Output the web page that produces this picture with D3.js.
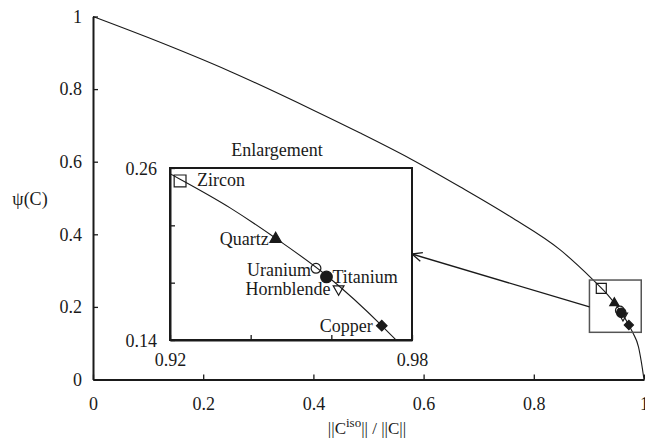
<!DOCTYPE html>
<html>
<head>
<meta charset="utf-8">
<script src="https://cdn.jsdelivr.net/npm/d3@7"></script>
<style>
  body { margin: 0; background: #fff; }
  svg { display: block; font-family: 'Liberation Serif', 'Times New Roman', serif; }
</style>
</head>
<body>
<div id="chart"></div>
<script>
// curve psi(C) vs ||C_iso|| / ||C||
const curveX = [0, 0.1, 0.25, 0.4, 0.485, 0.575, 0.666, 0.757, 0.848, 0.908, 0.92, 0.935, 0.9462, 0.9588, 0.9725, 0.98, 0.99, 0.995, 1];
const curveY = [1, 0.942, 0.848, 0.742, 0.679, 0.609, 0.531, 0.449, 0.357, 0.274, 0.256, 0.232, 0.211, 0.185, 0.150, 0.128, 0.09, 0.05, 0];

// materials
const materials = ['Zircon', 'Quartz', 'Uranium', 'Titanium', 'Hornblende', 'Copper'];
const materialX = [0.9225, 0.9462, 0.9562, 0.9588, 0.9618, 0.9725];
const materialY = [0.251, 0.2105, 0.190, 0.184, 0.1756, 0.150];

// axes
const mainTicks = [0, 0.2, 0.4, 0.6, 0.8, 1];
const insetXTicks = [0.92, 0.94, 0.96, 0.98];
const insetYTicks = [0.14, 0.18, 0.22, 0.26];
const insetXDomain = [0.92, 0.98];
const insetYDomain = [0.14, 0.26];
const zoomBoxX = [0.901, 0.995];
const zoomBoxY = [0.130, 0.274];
const arrowLevel = 0.2;

const width = 645;
const height = 438;
const ink = '#1a1a1a';

let svg = d3.select('#chart')
  .append('svg')
  .attr('width', width)
  .attr('height', height);

let x = d3.scaleLinear().domain([0, 1]).range([93, 644]);
let y = d3.scaleLinear().domain([0, 1]).range([379.5, 16.5]);
let ix = d3.scaleLinear().domain(insetXDomain).range([170, 412]);
let iy = d3.scaleLinear().domain(insetYDomain).range([340, 168]);

let curve = curveX.map(function (v, i) {
  return [v, curveY[i]];
});
let points = materials.map(function (name, i) {
  return {name: name, x: materialX[i], y: materialY[i]};
});

// symbol per material: [main size, inset size]
const markStyle = {
  Zircon: {type: d3.symbolSquare, filled: false, rot: 0, size: [100, 140]},
  Quartz: {type: d3.symbolTriangle, filled: true, rot: 0, size: [36, 58]},
  Uranium: {type: d3.symbolCircle, filled: false, rot: 0, size: [60, 75]},
  Titanium: {type: d3.symbolCircle, filled: true, rot: 0, size: [70, 105]},
  Hornblende: {type: d3.symbolTriangle, filled: false, rot: 180, size: [36, 50]},
  Copper: {type: d3.symbolSquare, filled: true, rot: 45, size: [42, 56]}
};
const labelPos = {
  Zircon: {anchor: 'start', dx: 17, dy: 5},
  Quartz: {anchor: 'end', dx: -7, dy: 6},
  Uranium: {anchor: 'end', dx: -5, dy: 8},
  Titanium: {anchor: 'start', dx: 6, dy: 6},
  Hornblende: {anchor: 'end', dx: -8, dy: 6},
  Copper: {anchor: 'end', dx: -9, dy: 6}
};

function styleAxis(g, fontSize) {
  g.select('.domain').attr('stroke', ink).attr('stroke-width', 2);
  g.selectAll('.tick line').attr('stroke', ink).attr('stroke-width', 1.3);
  g.selectAll('.tick text')
    .attr('fill', ink)
    .style('font-size', fontSize + 'px')
    .style('font-family', "'Liberation Serif', serif");
}

// main axes
let xAxis = svg.append('g')
  .attr('transform', 'translate(0,' + y(0) + ')')
  .call(d3.axisBottom(x).tickValues(mainTicks).tickSizeInner(-5).tickSizeOuter(0)
    .tickPadding(18).tickFormat(d3.format('~g')));
styleAxis(xAxis, 18);

let yAxis = svg.append('g')
  .attr('transform', 'translate(' + x(0) + ',0)')
  .call(d3.axisLeft(y).tickValues(mainTicks).tickSizeInner(-5).tickSizeOuter(0)
    .tickPadding(11).tickFormat(d3.format('~g')));
styleAxis(yAxis, 18);

let line = d3.line()
  .x(function (d) { return x(d[0]); })
  .y(function (d) { return y(d[1]); })
  .curve(d3.curveMonotoneX);

svg.append('path')
  .datum(curve)
  .attr('d', line)
  .attr('fill', 'none')
  .attr('stroke', ink)
  .attr('stroke-width', 1.1);

// small box around the enlarged region
svg.append('rect')
  .attr('x', x(zoomBoxX[0]))
  .attr('y', y(zoomBoxY[1]))
  .attr('width', x(zoomBoxX[1]) - x(zoomBoxX[0]))
  .attr('height', y(zoomBoxY[0]) - y(zoomBoxY[1]))
  .attr('fill', 'none')
  .attr('stroke', '#555')
  .attr('stroke-width', 1.5);

function drawMarks(g, sx, sy, k) {
  g.selectAll('path.mark')
    .data(points)
    .enter()
    .append('path')
    .attr('class', 'mark')
    .attr('d', function (d) {
      let s = markStyle[d.name];
      return d3.symbol(s.type, s.size[k])();
    })
    .attr('transform', function (d) {
      return 'translate(' + sx(d.x) + ',' + sy(d.y) + ') rotate(' + markStyle[d.name].rot + ')';
    })
    .attr('fill', function (d) {
      return markStyle[d.name].filled ? ink : 'none';
    })
    .attr('stroke', ink)
    .attr('stroke-width', 1.2);
}

drawMarks(svg.append('g'), x, y, 0);

// arrow from the small box to the enlargement
svg.append('defs').append('marker')
  .attr('id', 'arrow')
  .attr('markerUnits', 'userSpaceOnUse')
  .attr('viewBox', '-12 -6 14 12')
  .attr('markerWidth', 14)
  .attr('markerHeight', 12)
  .attr('orient', 'auto')
  .append('path')
  .attr('d', 'M-10,-4.5 L0,0 L-10,4.5')
  .attr('fill', 'none')
  .attr('stroke', ink)
  .attr('stroke-width', 1.3);

svg.append('line')
  .attr('x1', x(zoomBoxX[0]))
  .attr('y1', y(arrowLevel))
  .attr('x2', ix(insetXDomain[1]))
  .attr('y2', iy(arrowLevel))
  .attr('stroke', ink)
  .attr('stroke-width', 1.4)
  .attr('marker-end', 'url(#arrow)');

// inset
let inset = svg.append('g');
inset.append('rect')
  .attr('x', ix.range()[0])
  .attr('y', iy.range()[1])
  .attr('width', ix.range()[1] - ix.range()[0])
  .attr('height', iy.range()[0] - iy.range()[1])
  .attr('fill', '#fff')
  .attr('stroke', ink)
  .attr('stroke-width', 2);

svg.select('defs').append('clipPath')
  .attr('id', 'inset-clip')
  .append('rect')
  .attr('x', ix.range()[0])
  .attr('y', iy.range()[1])
  .attr('width', ix.range()[1] - ix.range()[0])
  .attr('height', iy.range()[0] - iy.range()[1]);

let insetLine = d3.line()
  .x(function (d) { return ix(d[0]); })
  .y(function (d) { return iy(d[1]); })
  .curve(d3.curveMonotoneX);

inset.append('path')
  .datum(curve)
  .attr('d', insetLine)
  .attr('clip-path', 'url(#inset-clip)')
  .attr('fill', 'none')
  .attr('stroke', ink)
  .attr('stroke-width', 1.1);

let edgeLabel = function (ticks) {
  return function (d) {
    return (d === ticks[0] || d === ticks[ticks.length - 1]) ? d3.format('.2f')(d) : '';
  };
};

let ixAxis = inset.append('g')
  .attr('transform', 'translate(0,' + iy.range()[0] + ')')
  .call(d3.axisBottom(ix).tickValues(insetXTicks).tickSizeInner(-5).tickSizeOuter(0)
    .tickPadding(13).tickFormat(edgeLabel(insetXTicks)));
styleAxis(ixAxis, 18);

let iyAxis = inset.append('g')
  .attr('transform', 'translate(' + ix.range()[0] + ',0)')
  .call(d3.axisLeft(iy).tickValues(insetYTicks).tickSizeInner(-5).tickSizeOuter(0)
    .tickPadding(13).tickFormat(edgeLabel(insetYTicks)));
styleAxis(iyAxis, 18);
iyAxis.selectAll('.tick text').attr('dy', '0.38em');

drawMarks(inset.append('g'), ix, iy, 1);

inset.selectAll('text.label')
  .data(points)
  .enter()
  .append('text')
  .attr('class', 'label')
  .attr('x', function (d) { return ix(d.x) + labelPos[d.name].dx; })
  .attr('y', function (d) { return iy(d.y) + labelPos[d.name].dy; })
  .attr('text-anchor', function (d) { return labelPos[d.name].anchor; })
  .attr('fill', ink)
  .style('font-size', '18px')
  .text(function (d) { return d.name; });

inset.append('text')
  .attr('x', (ix.range()[0] + ix.range()[1]) / 2 - 14)
  .attr('y', iy.range()[1] - 12)
  .attr('text-anchor', 'middle')
  .attr('fill', ink)
  .style('font-size', '18px')
  .text('Enlargement');

// axis titles
svg.append('text')
  .attr('x', 30)
  .attr('y', 205)
  .attr('text-anchor', 'middle')
  .attr('fill', ink)
  .style('font-size', '18px')
  .text('ψ(C)');

let xTitle = svg.append('text')
  .attr('x', 367)
  .attr('y', 434)
  .attr('text-anchor', 'middle')
  .attr('fill', ink)
  .style('font-size', '17px');
xTitle.append('tspan').text('||C');
xTitle.append('tspan').attr('dy', -7).style('font-size', '13px').text('iso');
xTitle.append('tspan').attr('dy', 7).text('|| / ||C||');
</script>
</body>
</html>
